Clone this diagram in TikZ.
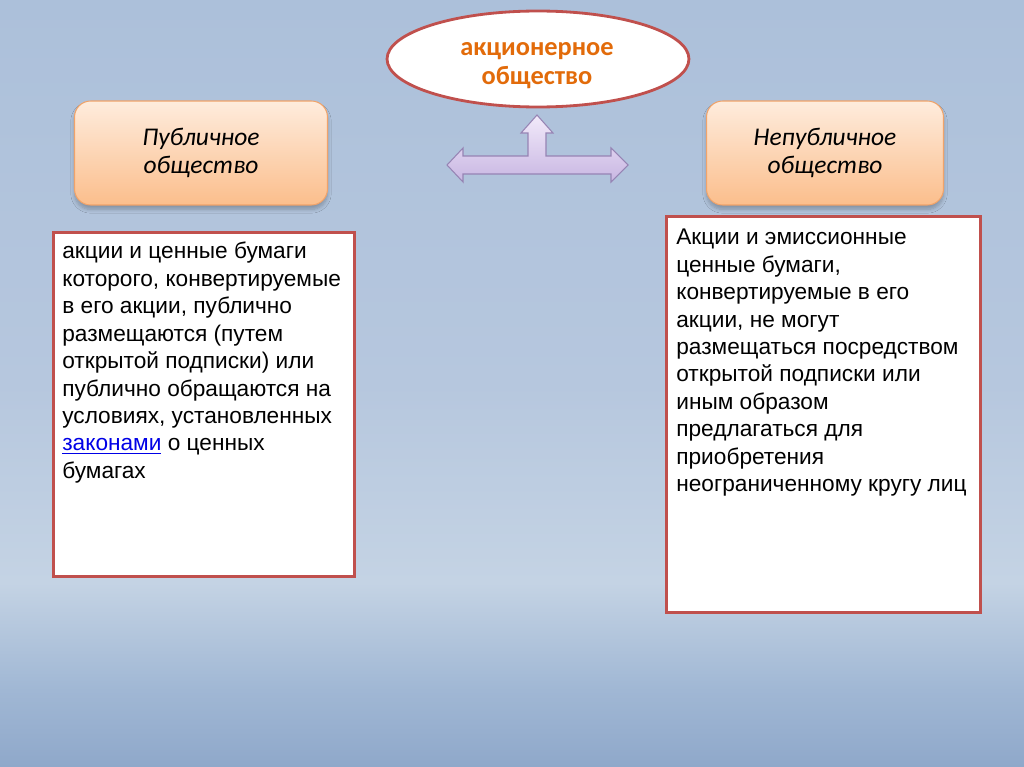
\documentclass[tikz,border=0pt]{standalone}
\usepackage{fontspec}
\setmainfont{Liberation Sans}
\newfontfamily\calibfont{Carlito}
\usetikzlibrary{shapes.geometric, shadows.blur}

\definecolor{bgtop}{RGB}{172,192,218}
\definecolor{bgcen}{RGB}{182,199,222}
\definecolor{bgmid}{RGB}{196,211,228}
\definecolor{bglow}{RGB}{160,183,212}
\definecolor{bgbot}{RGB}{143,168,202}
\definecolor{framered}{RGB}{192,80,77}
\definecolor{titleorange}{RGB}{226,107,10}
\definecolor{peachtop}{RGB}{254,236,221}
\definecolor{peachbot}{RGB}{251,190,140}
\definecolor{peachline}{RGB}{240,163,106}
\definecolor{lilactop}{RGB}{242,234,250}
\definecolor{lilacbot}{RGB}{200,182,226}
\definecolor{lilacline}{RGB}{150,132,180}
\definecolor{linkblue}{RGB}{0,0,230}

% slide background, bottom to top
\pgfdeclareverticalshading{slidebg}{100bp}{color(0bp)=(bgbot); color(25bp)=(bgbot);
  color(30bp)=(bglow); color(37bp)=(bgmid); color(50bp)=(bgcen); color(75bp)=(bgtop); color(100bp)=(bgtop)}

\begin{document}
\begin{tikzpicture}[x=0.02cm, y=-0.02cm,
  titleell/.style={ellipse, draw=framered, line width=1.6pt, fill=white,
    minimum width=6.04cm, minimum height=1.92cm, inner sep=0pt},
  titletext/.style={inner sep=0pt, align=center, text=titleorange,
    font={\calibfont\bfseries\fontsize{15}{16.5}\selectfont}},
  kindbox/.style={rectangle, rounded corners=0.32cm, draw=peachline, line width=0.6pt,
    top color=peachtop, bottom color=peachbot, minimum height=2.08cm, align=center,
    font={\calibfont\itshape\fontsize{14.5}{15.5}\selectfont},
    blur shadow={shadow xshift=0pt, shadow yshift=-2.5pt, shadow opacity=25, shadow blur steps=6}},
  textframe/.style={rectangle, draw=framered, line width=1.6pt, fill=white,
    anchor=north west, inner sep=0pt},
  bodytext/.style={anchor=north west, inner sep=0pt, align=left,
    font={\fontsize{12.9}{15.6}\selectfont}},
  arrowshape/.style={draw=lilacline, line width=0.6pt, top color=lilactop,
    bottom color=lilacbot, line join=miter}
  ]
  \useasboundingbox (0,0) rectangle (1024,767);
  \shade[shading=slidebg] (0,0) rectangle (1024,767);

  % top ellipse
  \node[titleell] (jsc) at (538,59) {};
  \node[titletext] (jsctext) at (537,66) {акционерное\\общество};

  % the two kinds
  \node[kindbox, minimum width=5.06cm] (pub) at (201,153) {Публичное\\общество};
  \node[kindbox, minimum width=4.74cm] (npub) at (825,153) {Непубличное\\общество};

  % three-way arrow
  \draw[arrowshape] (447,165) -- (463,148) -- (463,156) -- (528,156) -- (528,133)
    -- (521,133) -- (537,115) -- (553,133) -- (546,133) -- (546,156) -- (611,156)
    -- (611,148) -- (628,165) -- (611,182) -- (611,174) -- (463,174) -- (463,182) -- cycle;

  % left description
  \node[textframe, minimum width=6.03cm, minimum height=6.89cm] (pubframe) at (52,231) {};
  \node[bodytext] (pubtext) at (62,242) {акции и ценные бумаги\\
    которого, конвертируемые\\
    в его акции, публично\\
    размещаются (путем\\
    открытой подписки) или\\
    публично обращаются на\\
    условиях, установленных\\
    {\color{linkblue}\underline{законами}} о ценных\\
    бумагах};

  % right description
  \node[textframe, minimum width=6.29cm, minimum height=7.93cm] (npubframe) at (665,215) {};
  \node[bodytext] (npubtext) at (676,229) {Акции и эмиссионные\\
    ценные бумаги,\\
    конвертируемые в его\\
    акции, не могут\\
    размещаться посредством\\
    открытой подписки или\\
    иным образом\\
    предлагаться для\\
    приобретения\\
    неограниченному кругу лиц};

\end{tikzpicture}
\end{document}
